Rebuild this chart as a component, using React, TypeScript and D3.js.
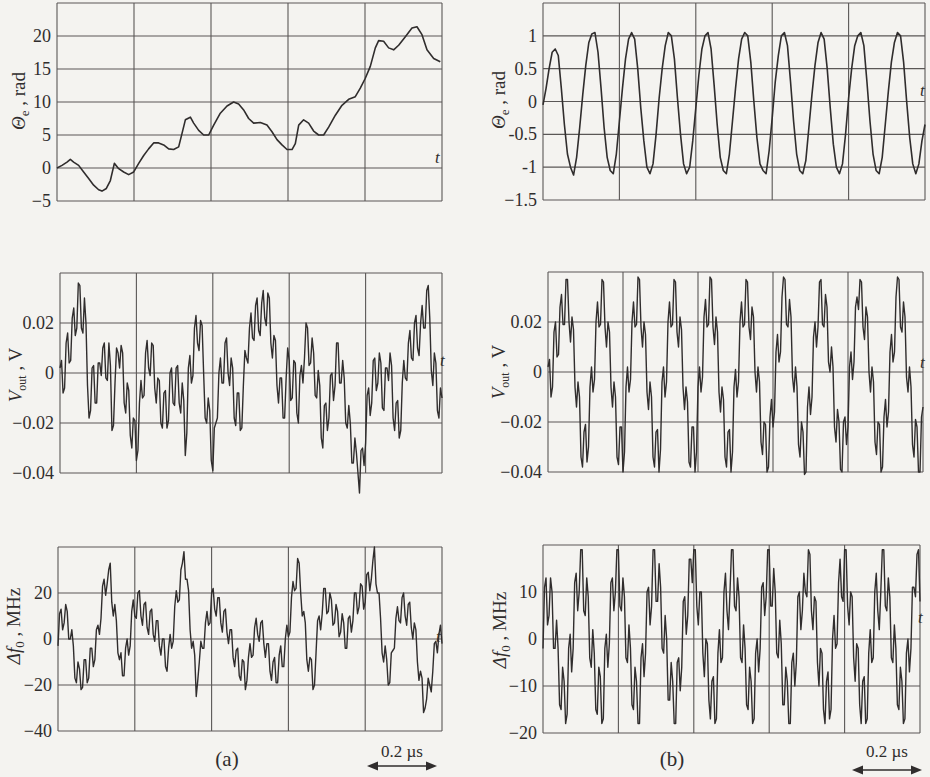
import React from "react";
import * as d3 from "d3";

// ---- data ----
// (a) top: phase error, rad, sampled at uneven times (grid divisions 0..5)
const thetaATime = [
  0, 0.065, 0.13, 0.173, 0.216, 0.281, 0.346, 0.411, 0.476, 0.541,
  0.584, 0.641, 0.693, 0.745, 0.801, 0.866, 0.931, 0.996, 1.061, 1.126,
  1.19, 1.255, 1.32, 1.385, 1.45, 1.515, 1.58, 1.623, 1.667, 1.732,
  1.775, 1.84, 1.905, 1.97, 2.035, 2.121, 2.208, 2.294, 2.359, 2.424,
  2.489, 2.554, 2.641, 2.727, 2.792, 2.857, 2.922, 2.987, 3.052, 3.095,
  3.139, 3.203, 3.268, 3.333, 3.398, 3.463, 3.528, 3.615, 3.701, 3.788,
  3.874, 3.939, 4.004, 4.069, 4.134, 4.177, 4.242, 4.307, 4.372, 4.437,
  4.524, 4.61, 4.675, 4.74, 4.805, 4.892, 4.978,
];
const thetaA = [
  0, 0.4, 0.9, 1.3, 0.9, 0.4, -0.6, -1.6, -2.6, -3.3,
  -3.5, -3.1, -1.9, 0.7, -0.1, -0.6, -1.0, -0.6, 0.7, 1.9,
  2.9, 3.8, 3.8, 3.5, 2.9, 2.8, 3.2, 5.2, 7.3, 7.7,
  6.8, 5.7, 5.0, 5.0, 6.5, 8.3, 9.4, 10.0, 9.7, 8.8,
  7.5, 6.8, 6.9, 6.5, 5.5, 4.3, 3.5, 2.8, 2.8, 3.7,
  6.5, 7.3, 6.8, 5.6, 5.0, 5.0, 6.2, 8.0, 9.5, 10.4,
  10.8, 12.1, 13.6, 15.4, 18.2, 19.3, 19.2, 18.2, 17.9, 18.6,
  19.9, 21.2, 21.4, 20.2, 17.9, 16.6, 16.1,
];

// the rest are sampled evenly across the 5 divisions
const thetaB = [
  -0.05, 0.2, 0.5, 0.75, 0.8, 0.7, 0.2, -0.35, -0.8, -1.0,
  -1.12, -0.85, -0.4, 0.1, 0.55, 0.9, 1.03, 1.05, 0.75, 0.2,
  -0.4, -0.85, -1.05, -1.1, -0.8, -0.3, 0.2, 0.65, 0.95, 1.05,
  0.95, 0.5, -0.1, -0.6, -1.0, -1.1, -0.95, -0.5, 0.05, 0.5,
  0.85, 1.05, 1.0, 0.65, 0.05, -0.5, -0.95, -1.1, -1.0, -0.6,
  -0.1, 0.4, 0.8, 1.0, 1.05, 0.8, 0.25, -0.35, -0.85, -1.05,
  -1.1, -0.8, -0.3, 0.2, 0.65, 0.95, 1.05, 1.0, 0.6, 0.0,
  -0.55, -0.95, -1.05, -1.1, -0.75, -0.25, 0.3, 0.7, 1.0, 1.05,
  0.85, 0.3, -0.3, -0.8, -1.05, -1.1, -0.9, -0.4, 0.1, 0.55,
  0.9, 1.05, 0.95, 0.5, -0.1, -0.65, -1.0, -1.1, -0.95, -0.5,
  0.05, 0.5, 0.85, 1.0, 1.05, 0.85, 0.3, -0.3, -0.8, -1.05,
  -1.1, -0.85, -0.35, 0.15, 0.6, 0.9, 1.05, 1.0, 0.6, 0.0,
  -0.55, -0.95, -1.1, -0.95, -0.6, -0.35,
];

const voutA = [
  0.002, 0.005, -0.008, -0.006, 0.012, 0.016, 0.004, 0.005, 0.022, 0.026,
  0.015, 0.018, 0.036, 0.035, 0.018, 0.016, 0.03, 0.02, -0.005, -0.018,
  -0.015, 0.002, 0.003, -0.012, -0.012, 0.004, 0.004, -0.001, 0.01, 0.012,
  -0.002, -0.003, 0.012, 0.003, -0.023, -0.021, -0.004, 0.01, 0.008, 0.002,
  0.011, 0.008, -0.012, -0.016, -0.004, -0.007, -0.025, -0.03, -0.018, -0.019,
  -0.035, -0.031, -0.012, -0.003, -0.01, -0.009, 0.008, 0.013, 0.002, -0.001,
  0.012, 0.011, -0.006, -0.012, -0.002, -0.003, -0.02, -0.022, -0.008, -0.007,
  -0.022, -0.019, 0.0, 0.002, -0.012, -0.013, 0.002, 0.003, -0.012, -0.016,
  -0.004, -0.011, -0.033, -0.024, 0.002, 0.007, -0.004, -0.001, 0.018, 0.023,
  0.012, 0.009, 0.021, 0.019, 0.0, -0.018, -0.02, -0.01, -0.015, -0.035,
  -0.039, -0.022, -0.02, -0.018, 0.0, 0.006, -0.004, -0.004, 0.012, 0.014,
  0.0, -0.005, 0.006, 0.002, -0.018, -0.021, -0.008, -0.008, -0.023, -0.022,
  -0.005, 0.009, 0.006, 0.004, 0.018, 0.024, 0.014, 0.013, 0.027, 0.03,
  0.017, 0.015, 0.028, 0.033, 0.022, 0.019, 0.032, 0.03, 0.012, 0.006,
  0.015, 0.013, -0.005, -0.012, -0.002, -0.002, -0.018, -0.018, -0.002, 0.01,
  0.005, -0.011, -0.01, 0.005, 0.004, -0.016, -0.02, -0.001, 0.003, -0.004,
  0.006, 0.02, 0.018, 0.003, 0.004, 0.014, 0.008, -0.009, -0.01, 0.001,
  -0.005, -0.026, -0.03, -0.013, -0.012, -0.023, -0.018, -0.001, 0.0, -0.011,
  -0.005, 0.012, 0.012, -0.004, -0.004, 0.005, -0.002, -0.02, -0.022, -0.013,
  -0.02, -0.036, -0.036, -0.026, -0.032, -0.04, -0.048, -0.031, -0.03, -0.037,
  -0.028, -0.009, -0.006, -0.017, -0.012, 0.005, 0.006, -0.007, -0.004, 0.008,
  0.004, -0.014, -0.015, 0.002, 0.002, -0.003, 0.008, 0.003, -0.018, -0.023,
  -0.012, -0.011, -0.026, -0.023, -0.004, 0.005, -0.002, -0.003, 0.012, 0.017,
  0.006, 0.005, 0.02, 0.023, 0.01, 0.007, 0.02, 0.027, 0.018, 0.018,
  0.033, 0.035, 0.022, 0.001, -0.005, 0.008, 0.004, -0.015, -0.018, -0.006,
  -0.01,
];

const voutB = [
  0.002, 0.005, -0.01, -0.006, 0.016, 0.02, 0.006, 0.007, 0.026, 0.031,
  0.019, 0.019, 0.037, 0.037, 0.02, 0.012, 0.022, 0.017, -0.006, -0.014,
  -0.004, -0.01, -0.034, -0.038, -0.024, -0.021, -0.036, -0.03, -0.006, 0.002,
  -0.008, -0.003, 0.02, 0.028, 0.018, 0.019, 0.037, 0.036, 0.018, 0.01,
  0.02, 0.016, -0.006, -0.014, -0.004, -0.01, -0.034, -0.037, -0.022, -0.022,
  -0.04, -0.032, -0.006, 0.002, -0.008, -0.003, 0.02, 0.028, 0.018, 0.019,
  0.038, 0.037, 0.018, 0.01, 0.02, 0.015, -0.008, -0.015, -0.004, -0.01,
  -0.034, -0.038, -0.024, -0.023, -0.04, -0.031, -0.004, 0.002, -0.01, -0.004,
  0.02, 0.028, 0.018, 0.019, 0.037, 0.036, 0.016, 0.01, 0.022, 0.017,
  -0.006, -0.015, -0.006, -0.012, -0.036, -0.038, -0.022, -0.022, -0.04, -0.032,
  -0.006, 0.002, -0.008, -0.002, 0.022, 0.029, 0.018, 0.019, 0.038, 0.037,
  0.018, 0.011, 0.022, 0.016, -0.008, -0.016, -0.006, -0.011, -0.034, -0.038,
  -0.024, -0.023, -0.04, -0.032, -0.006, 0.001, -0.01, -0.004, 0.02, 0.028,
  0.018, 0.019, 0.037, 0.036, 0.018, 0.013, 0.026, 0.022, 0.0, -0.008,
  0.002, -0.004, -0.028, -0.033, -0.02, -0.021, -0.04, -0.038, -0.018, -0.011,
  -0.022, -0.016, 0.008, 0.015, 0.004, 0.008, 0.03, 0.038, 0.037, 0.019,
  0.018, 0.029, 0.022, -0.002, -0.008, 0.002, -0.006, -0.029, -0.034, -0.02,
  -0.024, -0.041, -0.04, -0.014, -0.006, -0.017, -0.01, 0.014, 0.02, 0.01,
  0.018, 0.036, 0.037, 0.019, 0.018, 0.031, 0.026, 0.004, 0.0, 0.01,
  0.002, -0.022, -0.028, -0.015, -0.02, -0.039, -0.04, -0.02, -0.018, -0.029,
  -0.022, 0.002, 0.008, -0.003, 0.004, 0.026, 0.03, 0.025, 0.037, 0.036,
  0.018, 0.013, 0.026, 0.022, 0.0, -0.008, 0.002, -0.004, -0.028, -0.033,
  -0.02, -0.021, -0.04, -0.038, -0.018, -0.011, -0.022, -0.016, 0.008, 0.015,
  0.004, 0.008, 0.03, 0.038, 0.037, 0.018, 0.016, 0.028, 0.022, -0.002,
  -0.008, 0.002, -0.006, -0.029, -0.034, -0.019, -0.022, -0.04, -0.04, -0.018,
  -0.014,
];

const dfA = [
  -3, 11, 13, 4, 7, 15, 12, 0, 0, 4,
  -3, -17, -19, -10, -13, -22, -21, -9, -9, -19,
  -17, -4, -4, -12, -9, 4, 6, 2, 9, 23,
  26, 19, 24, 30, 33, 16, 10, 15, 8, -6,
  -9, -6, -16, -16, -4, 0, -7, -3, 12, 17,
  10, 9, 20, 21, 10, 6, 15, 16, 5, 2,
  12, 13, 2, -1, 8, 8, -3, -7, 0, 0,
  -12, -14, -4, 2, -4, -1, 14, 21, 16, 17,
  30, 33, 38, 26, 26, 21, 4, -4, -1, -7,
  -25, -18, -10, -1, -4, -4, 7, 12, 6, 7,
  20, 22, 13, 10, 18, 18, 7, 3, 12, 13,
  3, -2, 4, 4, -8, -12, -5, -4, -16, -18,
  -9, -10, -22, -18, -8, -2, -8, -7, 5, 9,
  2, -1, 7, 8, -2, -8, -2, -2, -14, -18,
  -10, -8, -19, -19, -7, -3, -12, -12, 0, 6,
  1, 3, 18, 25, 21, 22, 35, 33, 20, 10,
  12, 7, -9, -14, -8, -9, -22, -20, -6, 8,
  10, 4, 11, 22, 22, 11, 12, 20, 17, 6,
  7, 15, 12, 1, 3, 11, 7, -4, -4, 9,
  10, 3, 8, 20, 20, 11, 14, 24, 23, 13,
  16, 28, 29, 21, 26, 34, 40, 24, 20, 20,
  9, -6, -10, -3, -9, -20, -19, -6, -5, -4,
  9, 14, 8, 7, 18, 20, 10, 6, 15, 16,
  5, 0, 7, 4, -10, -18, -14, -17, -32, -30,
  -26, -17, -20, -23, -14, -2, -1, -6, 2, 6,
  -2,
];

const dfB = [
  -2, 11, 13, 3, 5, 13, 10, -2, -2, 4,
  -2, -14, -15, -6, -9, -18, -16, -2, 1, -7,
  -2, 12, 14, 6, 10, 19, 19, 6, 5, 13,
  9, -4, -6, 2, -3, -15, -16, -6, -8, -18,
  -17, -2, 1, -6, -1, 12, 13, 6, 10, 19,
  19, 7, 6, 13, 9, -4, -5, 3, -2, -14,
  -15, -6, -9, -18, -18, -4, -1, -8, -3, 10,
  11, 3, 7, 19, 19, 8, 8, 16, 11, -2,
  -3, 5, 0, -13, -13, -5, -9, -18, -18, -5,
  -4, -11, -6, 8, 9, 1, 5, 17, 17, 12,
  19, 19, 7, 3, 10, 10, -3, -8, 0, -1,
  -13, -17, -9, -8, -18, -17, -3, 2, -5, -4,
  10, 14, 6, 2, 10, 19, 19, 7, 6, 13,
  9, -4, -5, 3, -2, -14, -15, -6, -9, -18,
  -17, -3, 0, -7, -2, 11, 12, 5, 9, 19,
  19, 7, 7, 15, 10, -3, -4, 4, -1, -14,
  -14, -6, -9, -18, -18, -5, -3, -10, -5, 9,
  10, 2, 6, 14, 10, 9, 19, 18, 6, 2,
  9, 8, -5, -10, -2, -3, -15, -18, -9, -7,
  -17, -15, 0, 5, -2, -1, 12, 17, 9, 8,
  19, 19, 7, 3, 10, 9, -4, -9, -1, -2,
  -14, -18, -9, -8, -18, -17, -3, 2, -5, -4,
  10, 14, 6, 2, 10, 19, 19, 7, 6, 13,
  9, -4, -5, 3, -2, -14, -15, -6, -9, -18,
  -17, -3, 0, -7, -2, 11, 11, 9, 18, 19,
  8,
];

// grid values and tick labels
const thetaAGrid = [25, 20, 15, 10, 5, 0, -5];
const thetaATicks = ["20", "15", "10", "5", "0", "\u22125"];
const thetaBGrid = [1.5, 1, 0.5, 0, -0.5, -1, -1.5];
const thetaBTicks = ["1", "0.5", "0", "-0.5", "-1", "\u22121.5"];
const voutGrid = [0.04, 0.02, 0, -0.02, -0.04];
const voutTicks = ["0.02", "0", "\u22120.02", "\u22120.04"];
const dfAGrid = [40, 20, 0, -20, -40];
const dfATicks = ["20", "0", "\u221220", "\u221240"];
const dfBGrid = [20, 10, 0, -10, -20];
const dfBTicks = ["10", "0", "\u221210", "\u221220"];

const FONT = '"Liberation Serif", "Times New Roman", Times, "DejaVu Serif", serif';
const INK = "#302d2d";
const GRID = "#5a5756";

type Box = { left: number; right: number; top: number; bottom: number };

function Panel(props: {
  box: Box;
  grid: number[];
  ticks: string[];
  values: number[];
  times?: number[];
  tPos: [number, number];
  label: React.ReactNode;
  labelPos: [number, number];
  width?: number;
}) {
  const { box, grid, ticks, values, times, tPos, label, labelPos } = props;
  const y = d3
    .scaleLinear()
    .domain([grid[grid.length - 1], grid[0]])
    .range([box.bottom, box.top]);
  const x = times
    ? d3.scaleLinear().domain([0, 5]).range([box.left, box.right])
    : d3.scaleLinear().domain([0, values.length - 1]).range([box.left, box.right]);
  const cols = d3.range(6).map((i) => box.left + (i * (box.right - box.left)) / 5);
  const line = d3
    .line<number>()
    .x((_, i) => x(times ? times[i] : i))
    .y((d) => y(d));
  // first grid value is the top border and is not labelled
  const labelled = grid.slice(1);

  return (
    <g fontFamily={FONT}>
      {grid.map((v) => (
        <line key={"h" + v} x1={box.left} x2={box.right} y1={y(v)} y2={y(v)} stroke={GRID} strokeWidth={1.1} />
      ))}
      {cols.map((c, i) => (
        <line key={"v" + i} x1={c} x2={c} y1={box.top} y2={box.bottom} stroke={GRID} strokeWidth={1.1} />
      ))}
      {labelled.map((v, i) => (
        <text key={"t" + v} x={box.left - 6} y={y(v) + 6} textAnchor="end" fontSize={18} fill={INK}>
          {ticks[i]}
        </text>
      ))}
      <path
        d={line(values) || ""}
        fill="none"
        stroke={INK}
        strokeWidth={props.width ?? 1.4}
        strokeLinejoin="round"
      />
      <text x={tPos[0]} y={tPos[1]} fontStyle="italic" fontSize={17} fill={INK}>
        t
      </text>
      <text
        transform={`translate(${labelPos[0]},${labelPos[1]}) rotate(-90)`}
        textAnchor="middle"
        fontSize={19}
        fill={INK}
      >
        {label}
      </text>
    </g>
  );
}

const thetaLabel = (
  <>
    <tspan fontStyle="italic">Θ</tspan>
    <tspan dy={4} fontSize={13}>e</tspan>
    <tspan dy={-4}> , rad</tspan>
  </>
);
const voutLabel = (
  <>
    <tspan fontStyle="italic">V</tspan>
    <tspan dy={4} fontSize={12}>out</tspan>
    <tspan dy={-4}> ,  V</tspan>
  </>
);
const dfLabel = (
  <>
    <tspan fontStyle="italic">Δf</tspan>
    <tspan dy={4} fontSize={13}>0</tspan>
    <tspan dy={-4}> , MHz</tspan>
  </>
);

function ScaleBar({ x1, x2, y, textY }: { x1: number; x2: number; y: number; textY: number }) {
  const h = 11;
  return (
    <g fill={INK} stroke={INK} fontFamily={FONT}>
      <line x1={x1 + 8} x2={x2 - 8} y1={y} y2={y} strokeWidth={1.6} />
      <path d={`M${x1},${y}L${x1 + h},${y - 4.5}L${x1 + h},${y + 4.5}Z`} stroke="none" />
      <path d={`M${x2},${y}L${x2 - h},${y - 4.5}L${x2 - h},${y + 4.5}Z`} stroke="none" />
      <text x={(x1 + x2) / 2} y={textY} textAnchor="middle" fontSize={17} stroke="none">
        0.2 µs
      </text>
    </g>
  );
}

export default function App() {
  return (
    <svg
      width={930}
      height={777}
      style={{ position: "absolute", left: 0, top: 0, fontFamily: FONT }}
    >
      <rect width={930} height={777} fill="#f4f3f0" />
      <Panel
        box={{ left: 57, right: 442, top: 3, bottom: 201 }}
        grid={thetaAGrid}
        ticks={thetaATicks}
        values={thetaA}
        times={thetaATime}
        tPos={[435, 163]}
        label={thetaLabel}
        labelPos={[25, 101]}
        width={1.6}
      />
      <Panel
        box={{ left: 543, right: 925, top: 3, bottom: 200 }}
        grid={thetaBGrid}
        ticks={thetaBTicks}
        values={thetaB}
        tPos={[920, 96]}
        label={thetaLabel}
        labelPos={[505, 100]}
        width={1.6}
      />
      <Panel
        box={{ left: 60, right: 442, top: 273, bottom: 473 }}
        grid={voutGrid}
        ticks={voutTicks}
        values={voutA}
        tPos={[440, 366]}
        label={voutLabel}
        labelPos={[22, 375]}
      />
      <Panel
        box={{ left: 548, right: 923, top: 272, bottom: 472 }}
        grid={voutGrid}
        ticks={voutTicks}
        values={voutB}
        tPos={[920, 368]}
        label={voutLabel}
        labelPos={[505, 372]}
      />
      <Panel
        box={{ left: 58, right: 442, top: 547, bottom: 731 }}
        grid={dfAGrid}
        ticks={dfATicks}
        values={dfA}
        tPos={[436, 642]}
        label={dfLabel}
        labelPos={[20, 626]}
      />
      <Panel
        box={{ left: 543, right: 920, top: 545, bottom: 733 }}
        grid={dfBGrid}
        ticks={dfBTicks}
        values={dfB}
        tPos={[918, 623]}
        label={dfLabel}
        labelPos={[506, 630]}
      />
      <text x={227} y={766} textAnchor="middle" fontSize={21} fill={INK} fontFamily={FONT}>
        (a)
      </text>
      <text x={672} y={766} textAnchor="middle" fontSize={21} fill={INK} fontFamily={FONT}>
        (b)
      </text>
      <ScaleBar x1={367} x2={437} y={766} textY={757} />
      <ScaleBar x1={852} x2={922} y={770} textY={757} />
    </svg>
  );
}
